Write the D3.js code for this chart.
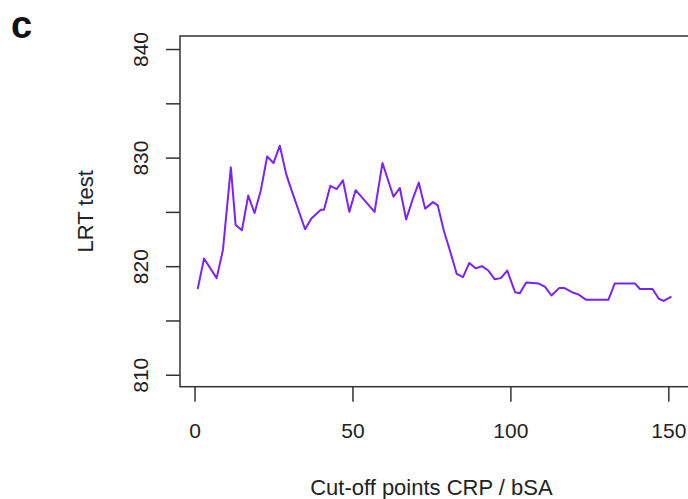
<!DOCTYPE html>
<html>
<head>
<meta charset="utf-8">
<script src="https://cdn.jsdelivr.net/npm/d3@7"></script>
<style>
  body { margin: 0; background: #fff; }
  svg { display: block; font-family: "Liberation Sans", Arial, sans-serif; }
</style>
</head>
<body>
<div id="chart"></div>
<script>
// cut-off points (x) and LRT test values
const cutoffs = [1, 3, 7, 9, 11.5, 13, 15, 16, 17, 19, 21, 23, 25, 27, 29, 30, 35, 37, 40, 41,
  43, 45, 47, 49, 51, 57, 59.5, 63, 65, 67, 69, 71, 73, 75.5, 77, 79, 81, 83, 85, 87,
  89, 91, 93, 95, 97, 99, 100.5, 101.5, 103, 105, 109, 111, 113, 115.5, 117, 119.5, 121.5, 124, 131, 132,
  133, 139.5, 141, 145, 147, 148.5, 151];
const lrt = [817.9, 820.7, 818.9, 821.5, 829.1, 823.8, 823.3, 824.9, 826.5, 824.9, 827.0, 830.1, 829.5, 831.1, 828.5, 827.6, 823.4, 824.4, 825.2, 825.2,
  827.4, 827.1, 827.9, 825.0, 827.0, 825.0, 829.5, 826.4, 827.2, 824.3, 826.1, 827.7, 825.3, 825.9, 825.6, 823.2, 821.3, 819.3, 819.0, 820.3,
  819.8, 820.0, 819.6, 818.8, 818.9, 819.6, 818.4, 817.6, 817.5, 818.5, 818.4, 818.1, 817.3, 818.0, 818.0, 817.6, 817.4, 816.9, 816.9, 817.6,
  818.4, 818.4, 817.9, 817.9, 817.0, 816.8, 817.2];
const xTicks = [0, 50, 100, 150];
const yTicks = [810, 815, 820, 825, 830, 835, 840];
const yLabels = [810, 820, 830, 840];

const W = 688, H = 499;
const box = { left: 180, right: 692, top: 36, bottom: 386.7 };

const svg = d3.select("#chart").append("svg")
  .attr("width", W).attr("height", H);

const x = d3.scaleLinear().domain([-4.6, 157.5]).range([box.left, box.right]);
const y = d3.scaleLinear().domain([808.9, 841.2]).range([box.bottom, box.top]);

// panel letter
svg.append("text")
  .attr("x", 11).attr("y", 38)
  .attr("font-size", 38).attr("font-weight", "bold")
  .attr("fill", "#111")
  .text("c");

// y axis
const yAxis = svg.append("g")
  .attr("transform", `translate(${box.left},0)`)
  .call(d3.axisLeft(y).tickValues(yTicks).tickSize(14)
    .tickFormat(d => yLabels.includes(d) ? d : ""));
yAxis.select(".domain").remove();
yAxis.selectAll("line").attr("stroke", "#333").attr("stroke-width", 1.5);
yAxis.selectAll("text")
  .attr("x", null).attr("dy", null)
  .attr("transform", "translate(-32,0) rotate(-90)")
  .attr("text-anchor", "middle")
  .attr("font-size", 21)
  .attr("fill", "#222");

// x axis
const xAxis = svg.append("g")
  .attr("transform", `translate(0,${box.bottom})`)
  .call(d3.axisBottom(x).tickValues(xTicks).tickSize(15));
xAxis.select(".domain").remove();
xAxis.selectAll("line").attr("stroke", "#333").attr("stroke-width", 1.5);
xAxis.selectAll("text")
  .attr("y", 51.8).attr("dy", null)
  .attr("font-size", 21)
  .attr("fill", "#222");

// plot box
svg.append("rect")
  .attr("x", box.left).attr("y", box.top)
  .attr("width", box.right - box.left).attr("height", box.bottom - box.top)
  .attr("fill", "none").attr("stroke", "#333").attr("stroke-width", 1.5);

// line
const pts = cutoffs.map((c, i) => [c, lrt[i]]);
svg.append("path")
  .datum(pts)
  .attr("fill", "none")
  .attr("stroke", "#7a22ff")
  .attr("stroke-width", 2)
  .attr("stroke-linejoin", "round")
  .attr("d", d3.line().x(d => x(d[0])).y(d => y(d[1])));

// axis titles
svg.append("text")
  .attr("x", (x(0) + x(150)) / 2).attr("y", 495)
  .attr("text-anchor", "middle")
  .attr("font-size", 22).attr("fill", "#222")
  .text("Cut-off points CRP / bSA");

svg.append("text")
  .attr("transform", `translate(93,${(box.top + box.bottom) / 2}) rotate(-90)`)
  .attr("text-anchor", "middle")
  .attr("font-size", 22).attr("fill", "#222")
  .text("LRT test");
</script>
</body>
</html>
